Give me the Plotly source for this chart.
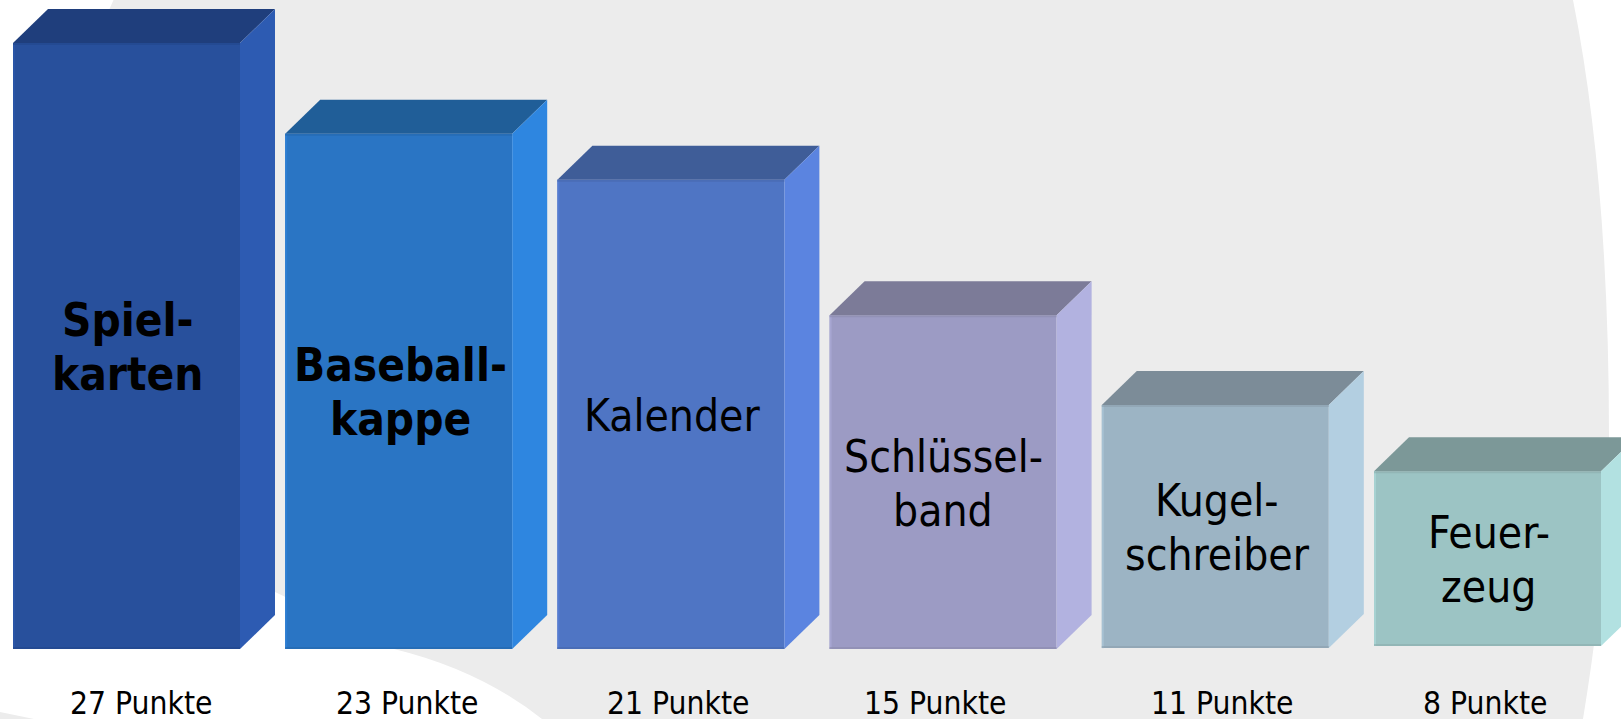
import plotly.graph_objects as go

label_lines = [["Spiel-", "karten"], ["Baseball-", "kappe"], ["Kalender"], ["Schlüssel-", "band"], ["Kugel-", "schreiber"], ["Feuer-", "zeug"]]
bold = [True, True, False, False, False, False]
points = [27, 23, 21, 15, 11, 8]
heights = [27.05, 23.0, 20.95, 14.9, 10.85, 7.8]
bases = [0, 0, 0, 0, 0.04, 0.13]
front_colors = ["#28509c", "#2a75c4", "#4f75c4", "#9c9bc4", "#9cb4c4", "#9cc4c4"]
top_colors = ["#1f3e7c", "#205e98", "#3f5d98", "#7c7b98", "#7c8c98", "#7c9898"]
side_colors = ["#2d5bb2", "#2e86e0", "#5b84e0", "#b2b2e0", "#b3cfe1", "#b2e1e1"]
points_label_shift = [14, 8, 7, -8, 7, -3]
inner_label_shift = [1, 2, 1, 0, 2, 1]

W, H = 1621, 719
X0, XS = 126.5, 272.2   # pixel of the first bar's centre, pixels per category
Y0, YS = 649.0, 22.4    # pixel of value 0, pixels per point
BAR_W = 227 / XS
DX, DY = 35 / XS, 34 / YS
LINE_PX = 54
FONT = "DejaVu Sans Condensed, DejaVu Sans, sans-serif"

def px(x, y):
    return f"{x / W:.5f} {1 - y / H:.5f}"

def mix(a, b):
    ca = [int(a[k:k + 2], 16) for k in (1, 3, 5)]
    cb = [int(b[k:k + 2], 16) for k in (1, 3, 5)]
    return "#" + "".join(f"{(p + q) // 2:02x}" for p, q in zip(ca, cb))

blob = (f"M {px(113.5, 0)} L {px(1573, 0)} Q {px(1609, 180)} {px(1609, 437)} "
        f"Q {px(1609, 560)} {px(1583, 719)} L {px(542, 719)} Q {px(480, 670)} {px(394, 649)} "
        f"L {px(275, 592)} L {px(100, 500)} L {px(60, 120)} Z")
corner = f"M {px(0, 712)} L {px(34, 719)} L {px(0, 719)} Z"

fig = go.Figure()
xs = list(range(len(points)))
fig.add_trace(go.Bar(x=xs, y=heights, base=bases, width=BAR_W, marker=dict(color=front_colors, line=dict(width=0)), showlegend=False))

for i, (h, b) in enumerate(zip(heights, bases)):
    l, r, t = i - BAR_W / 2, i + BAR_W / 2, b + h
    fig.add_trace(go.Scatter(x=[l, r, r + DX, l + DX, l], y=[t, t, t + DY, t + DY, t], mode="lines",
                             fill="toself", fillcolor=top_colors[i], line=dict(width=0), showlegend=False, hoverinfo="skip"))
    fig.add_trace(go.Scatter(x=[r, r + DX, r + DX, r, r], y=[b, b + DY, t + DY, t, b], mode="lines",
                             fill="toself", fillcolor=side_colors[i], line=dict(width=0), showlegend=False, hoverinfo="skip"))
    # thin bevel edges of the front face
    e = 1 / XS
    fig.add_trace(go.Scatter(x=[l + e, l + e], y=[b, t], mode="lines", line=dict(width=2, color=mix(front_colors[i], side_colors[i])),
                             showlegend=False, hoverinfo="skip"))
    for yy in (b + 1 / YS, t - 1 / YS):
        fig.add_trace(go.Scatter(x=[l, r], y=[yy, yy], mode="lines", line=dict(width=2, color=mix(front_colors[i], top_colors[i])),
                                 showlegend=False, hoverinfo="skip", opacity=0.6))
    n = len(label_lines[i])
    for j, line in enumerate(label_lines[i]):
        txt = f"<b>{line}</b>" if bold[i] else line
        fig.add_annotation(x=i, xshift=inner_label_shift[i], y=b + h / 2, yshift=((n - 1) / 2 - j) * LINE_PX - 1, text=txt,
                           showarrow=False, xanchor="center", yanchor="middle",
                           font=dict(family=FONT, size=45.5 if bold[i] else 44, color="#000000"))
    fig.add_annotation(x=i, xshift=points_label_shift[i], y=-2.42, text=f"{points[i]} Punkte", showarrow=False,
                       xanchor="center", yanchor="middle", font=dict(family=FONT, size=31.5, color="#000000"))

fig.update_layout(
    width=W, height=H, margin=dict(l=0, r=0, t=0, b=0), autosize=False,
    paper_bgcolor="#ffffff", plot_bgcolor="rgba(0,0,0,0)",
    xaxis=dict(range=[-X0 / XS, (W - X0) / XS], visible=False, fixedrange=True),
    yaxis=dict(range=[(Y0 - H) / YS, Y0 / YS], visible=False, fixedrange=True),
    shapes=[dict(type="path", path=p, xref="paper", yref="paper", fillcolor="#ececec", line=dict(width=0), layer="below")
            for p in (blob, corner)],
)
fig.write_html("out.html", config={"displayModeBar": False},
               post_script="document.body.style.margin='0';document.body.style.overflow='hidden';")
